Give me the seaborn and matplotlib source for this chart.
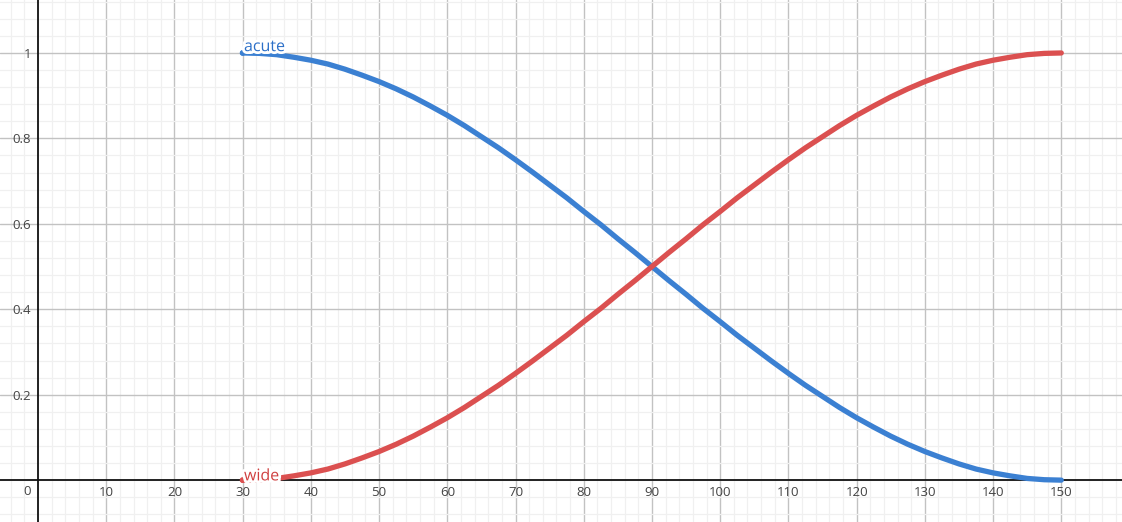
import numpy as np
import pandas as pd
import seaborn as sns
import matplotlib.pyplot as plt
import matplotlib.patheffects as pe
from matplotlib.ticker import MultipleLocator

# ----------------------------------------------------------------------
# DATA
# ----------------------------------------------------------------------
angle = [30, 32.5, 35, 37.5, 40, 42.5, 45, 47.5, 50, 52.5, 55, 57.5, 60,
         62.5, 65, 67.5, 70, 72.5, 75, 77.5, 80, 82.5, 85, 87.5, 90,
         92.5, 95, 97.5, 100, 102.5, 105, 107.5, 110, 112.5, 115, 117.5, 120,
         122.5, 125, 127.5, 130, 132.5, 135, 137.5, 140, 142.5, 145, 147.5, 150]
acute = [1.0, 0.999, 0.996, 0.990, 0.983, 0.974, 0.962, 0.948, 0.933, 0.916, 0.897, 0.876, 0.854,
         0.830, 0.804, 0.778, 0.750, 0.721, 0.691, 0.661, 0.629, 0.598, 0.565, 0.533, 0.500,
         0.467, 0.435, 0.402, 0.371, 0.339, 0.309, 0.279, 0.250, 0.222, 0.196, 0.170, 0.146,
         0.124, 0.103, 0.084, 0.067, 0.052, 0.038, 0.026, 0.017, 0.010, 0.004, 0.001, 0.0]
wide = [0.0, 0.001, 0.004, 0.010, 0.017, 0.026, 0.038, 0.052, 0.067, 0.084, 0.103, 0.124, 0.146,
        0.170, 0.196, 0.222, 0.250, 0.279, 0.309, 0.339, 0.371, 0.402, 0.435, 0.467, 0.500,
        0.533, 0.565, 0.598, 0.629, 0.661, 0.691, 0.721, 0.750, 0.778, 0.804, 0.830, 0.854,
        0.876, 0.897, 0.916, 0.933, 0.948, 0.962, 0.974, 0.983, 0.990, 0.996, 0.999, 1.0]

x_ticks = [10, 20, 30, 40, 50, 60, 70, 80, 90, 100, 110, 120, 130, 140, 150]
y_ticks = [0.2, 0.4, 0.6, 0.8, 1.0]

df = pd.DataFrame({"angle": angle * 2,
                   "value": acute + wide,
                   "series": ["acute"] * len(angle) + ["wide"] * len(angle)})

blue = "#3b80d2"
red = "#db5050"
palette = {"acute": blue, "wide": red}

sns.set_style("white")
plt.rcParams["font.family"] = ["Open Sans", "DejaVu Sans"]

fig = plt.figure(figsize=(11.22, 5.22), dpi=100)
ax = fig.add_axes([0, 0, 1, 1])

sns.lineplot(data=df, x="angle", y="value", hue="series", palette=palette,
             linewidth=3.8, ax=ax, legend=False, zorder=5,
             solid_capstyle="round", solid_joinstyle="round")

ax.set_xlim(-5.57, 158.9)
ax.set_ylim(-0.098, 1.124)

# grid
ax.xaxis.set_major_locator(MultipleLocator(10))
ax.yaxis.set_major_locator(MultipleLocator(0.2))
ax.xaxis.set_minor_locator(MultipleLocator(2))
ax.yaxis.set_minor_locator(MultipleLocator(0.04))
ax.grid(True, which="major", color="#c2c2c2", linewidth=1.0, zorder=0)
ax.grid(True, which="minor", color="#f0f0f0", linewidth=0.9, zorder=0)
ax.set_axisbelow(True)

# axes through origin
for s in ["top", "right"]:
    ax.spines[s].set_visible(False)
for s in ["bottom", "left"]:
    ax.spines[s].set_position(("data", 0))
    ax.spines[s].set_color("#111111")
    ax.spines[s].set_linewidth(1.3)
    ax.spines[s].set_zorder(3)

ax.set_xlabel("")
ax.set_ylabel("")
ax.tick_params(which="both", length=0)
ax.set_xticks(x_ticks, [str(t) for t in x_ticks], minor=False)
ax.set_yticks(y_ticks, ["1" if t == 1.0 else f"{t:g}" for t in y_ticks], minor=False)
ax.tick_params(axis="x", pad=4, labelsize=9.5, labelcolor="#444444")
ax.tick_params(axis="y", pad=5, labelsize=9.5, labelcolor="#444444")
ax.text(-1.0, -0.012, "0", ha="right", va="top", fontsize=9.5, color="#444444")

# point labels
halo = [pe.withStroke(linewidth=4, foreground="white")]
ax.scatter([30, 30], [1.0, 0.0], s=10, color=[blue, red], zorder=6)
ax.text(30.2, 0.995, "acute", color="#2d70c8", fontsize=11.5, ha="left", va="bottom",
        path_effects=halo, zorder=7)
ax.text(30.2, -0.01, "wide", color="#d04040", fontsize=11.5, ha="left", va="bottom",
        path_effects=halo, zorder=7)

plt.savefig("out.png", dpi=100)
